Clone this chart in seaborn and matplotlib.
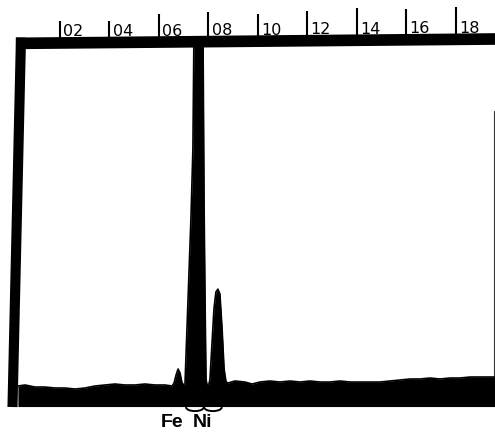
import numpy as np
import matplotlib
matplotlib.use("Agg")
import matplotlib.pyplot as plt
from matplotlib.patches import Arc
import seaborn as sns

# EDS spectrum: energy (keV) and counts (% of full scale; the Ni K-alpha peak runs off scale)
energy_kev = [0.30, 0.59, 0.99, 1.39, 1.80, 2.20, 2.61, 3.01, 3.41, 3.82,
              4.22, 4.63, 5.03, 5.43, 5.84, 6.24, 6.53, 6.61, 6.69, 6.77,
              6.85, 6.93, 7.01, 7.05, 7.13, 7.21, 7.29, 7.37, 7.41, 7.60,
              7.78, 7.82, 7.86, 7.90, 7.94, 8.02, 8.06, 8.14, 8.22, 8.30,
              8.38, 8.46, 8.55, 8.63, 8.71, 8.79, 9.07, 9.47, 9.76, 10.08,
              10.48, 10.89, 11.29, 11.70, 12.10, 12.51, 12.91, 13.31, 13.72, 14.12,
              14.53, 14.93, 15.33, 15.74, 16.14, 16.55, 16.95, 17.35, 17.76, 18.16,
              18.57, 18.97, 19.37, 19.58]
counts = [5.51, 5.79, 5.23, 5.23, 4.96, 4.96, 4.68, 4.96, 5.51, 5.79,
          6.06, 5.79, 5.79, 6.06, 5.79, 5.79, 5.51, 6.34, 8.54, 10.19,
          9.09, 6.34, 5.79, 6.06, 21.2, 36.4, 51.5, 70.8, 101.0, 101.0,
          101.0, 57.0, 29.5, 7.44, 5.79, 6.06, 7.44, 17.08, 26.7, 31.4,
          32.2, 30.9, 21.2, 10.19, 6.61, 6.34, 6.89, 6.61, 6.06, 6.61,
          6.89, 6.61, 6.89, 6.61, 6.89, 6.61, 6.61, 6.89, 6.61, 6.61,
          6.61, 6.61, 6.89, 7.16, 7.44, 7.44, 7.71, 7.44, 7.71, 7.71,
          7.99, 7.99, 7.99, 7.99]

tick_values = [2, 4, 6, 8, 10, 12, 14, 16, 18]
tick_labels = ["02", "04", "06", "08", "10", "12", "14", "16", "18"]

element_labels = ["Fe", "Ni"]

sns.set_style("white")
plt.rcParams["font.family"] = ["DejaVu Sans"]

fig = plt.figure(figsize=(4.95, 4.35), dpi=100)
ax = fig.add_axes([0, 0, 1, 1])
ax.set_xlim(-0.424, 19.576)
ax.set_ylim(-7.71, 112.12)
ax.axis("off")

# spectrum trace, filled solid down to the base of the frame
sns.lineplot(x=energy_kev, y=counts, color="black", lw=1.2, ax=ax,
             estimator=None, sort=False)
ax.fill_between(energy_kev, -0.15, counts, color="black", lw=0)

# frame: heavy top rule and left rule (scan is slightly rotated)
ax.plot([0.22, 19.58], [99.9, 101.1], color="black", lw=8.4,
        solid_capstyle="butt")
ax.plot([0.424, 0.081], [101.5, -0.28], color="black", lw=7.3,
        solid_capstyle="butt")
# faint right edge
ax.plot([19.535, 19.535], [8.0, 81.3], color="black", lw=0.8, alpha=0.8)


def band_top(k):
    # height (in count units) of the upper edge of the top rule at energy k
    return 101.5 + (k - 0.22) / 19.36 * 1.3


# energy scale marks above the top rule
tick_tops = [106.1, 106.1, 108.0, 108.5, 108.0, 108.8, 109.6, 109.4, 109.9]
for k, lab, top in zip(tick_values, tick_labels, tick_tops):
    ax.plot([k, k], [band_top(k) - 1.0, top], color="black", lw=1.5,
            solid_capstyle="butt")
    ax.text(k + 0.13, band_top(k) + 0.45, lab, fontsize=11.5,
            ha="left", va="baseline", color="black", fontweight="medium")

# element markers under the spectrum
for cx in [7.45, 8.18]:
    ax.add_patch(Arc((cx, -0.3), 0.72, 2.2, theta1=180, theta2=360,
                     color="black", lw=1.4))
for lab, kx in zip(element_labels, [6.51, 7.75]):
    ax.text(kx, -5.6, lab, fontsize=14, fontweight="bold",
            family=["Liberation Sans", "DejaVu Sans"],
            ha="center", va="baseline", color="black")

fig.savefig("out.png", dpi=100)
